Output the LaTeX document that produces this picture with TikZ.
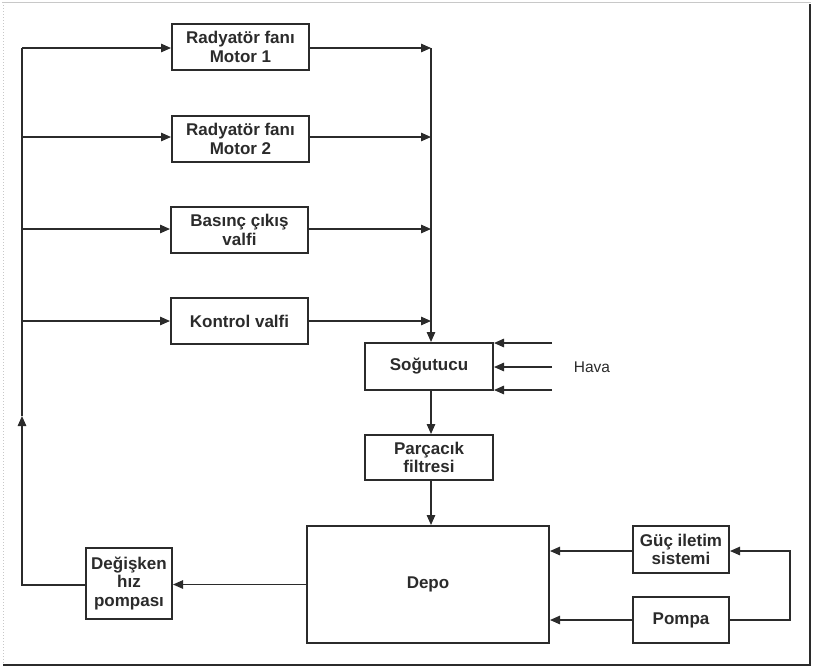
\documentclass[tikz,border=0pt]{standalone}
\usepackage{fontspec}
\setmainfont{Liberation Sans}
\usetikzlibrary{arrows.meta}
\definecolor{ink}{HTML}{2B2B2B}
\definecolor{framelight}{HTML}{C8C8C8}
\begin{document}
\begin{tikzpicture}[x=1pt,y=-1pt,
  block/.style={draw=ink,line width=2pt,fill=white,align=center,inner sep=0pt,
    text=ink,font=\bfseries\fontsize{17}{18.8}\selectfont},
  flow/.style={draw=ink,line width=1.3pt,-{Triangle[length=10pt,width=8.5pt]}},
  plain/.style={draw=ink,line width=1.3pt}]
\useasboundingbox (0,0) rectangle (813,670);
% page frame
\draw[framelight,line width=1pt] (2,2) -- (811,2);
\draw[framelight,line width=1pt,dotted] (3,2) -- (3,665);
\draw[ink,line width=2pt] (810,4) -- (810,665) -- (3,665);

% blocks
\node[block,minimum width=137pt,minimum height=46pt] (m1) at (240.5,47) {Radyatör fanı\\Motor 1};
\node[block,minimum width=137pt,minimum height=46pt] (m2) at (240.5,139) {Radyatör fanı\\Motor 2};
\node[block,minimum width=137pt,minimum height=46pt] (bv) at (239.5,230) {Basınç çıkış\\valfi};
\node[block,minimum width=137pt,minimum height=46pt] (kv) at (239.5,321) {Kontrol valfi};
\node[block,minimum width=128pt,minimum height=47pt] (sog) at (429,366.5) {Soğutucu};
\node[block,minimum width=128pt,minimum height=45pt] (pf) at (429,457.5) {Parçacık\\filtresi};
\node[block,minimum width=242pt,minimum height=117pt] (depo) at (428,584.5) {Depo};
\node[block,minimum width=86pt,minimum height=71pt] (dh) at (129,583.5) {Değişken\\hız\\pompası};
\node[block,minimum width=96pt,minimum height=47pt] (guc) at (681,549.5) {Güç iletim\\sistemi};
\node[block,minimum width=96pt,minimum height=46pt] (pompa) at (681,620) {Pompa};
\node[text=ink,font=\fontsize{15.5}{18}\selectfont] (hava) at (592,367) {Hava};

% left return bus
\coordinate (L1) at (22,48);
\coordinate (L2) at (22,137);
\coordinate (L3) at (22,229);
\coordinate (L4) at (22,321);
\coordinate (La) at (22,416);
\coordinate (Lb) at (22,585);
% right collecting bus and the vertical trunk below it
\coordinate (R1) at (431,48);
\coordinate (R2) at (431,137);
\coordinate (R3) at (431,229);
\coordinate (R4) at (431,321);
% air inlets
\coordinate (H1) at (552,343);
\coordinate (H2) at (552,367);
\coordinate (H3) at (552,390);
% pump loop corners
\coordinate (Q1) at (790,620);
\coordinate (Q2) at (790,551);

\draw[flow] (L1) -- (L1 -| m1.west);
\draw[flow] (L2) -- (L2 -| m2.west);
\draw[flow] (L3) -- (L3 -| bv.west);
\draw[flow] (L4) -- (L4 -| kv.west);

\draw[flow] (R1 -| m1.east) -- (R1);
\draw[flow] (R2 -| m2.east) -- (R2);
\draw[flow] (R3 -| bv.east) -- (R3);
\draw[flow] (R4 -| kv.east) -- (R4);
\draw[flow] (R1) -- (R1 |- sog.north);

\draw[flow] (H1) -- (H1 -| sog.east);
\draw[flow] (H2) -- (H2 -| sog.east);
\draw[flow] (H3) -- (H3 -| sog.east);

\draw[flow] (R1 |- sog.south) -- (R1 |- pf.north);
\draw[flow] (R1 |- pf.south) -- (R1 |- depo.north);
\draw[flow] (depo.west) -- (depo.west -| dh.east);

\draw[flow] (Lb -| dh.west) -- (Lb) -- (La);
\draw[plain] (La) -- (L1);

\draw[flow] (Q2 -| guc.west) -- (Q2 -| depo.east);
\draw[flow] (Q1 -| pompa.west) -- (Q1 -| depo.east);
\draw[flow] (Q1 -| pompa.east) -- (Q1) -- (Q2) -- (Q2 -| guc.east);
\end{tikzpicture}
\end{document}
